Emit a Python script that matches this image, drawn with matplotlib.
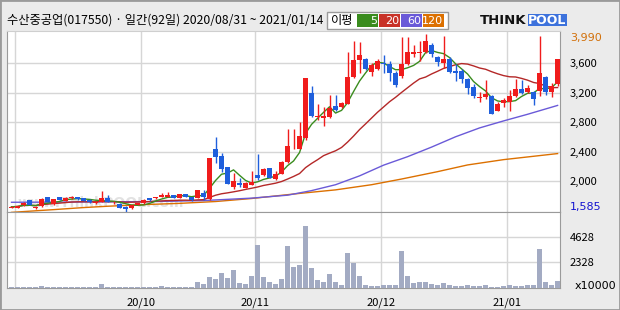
import numpy as np
import pandas as pd
import matplotlib
matplotlib.use("Agg")
import matplotlib.pyplot as plt
import matplotlib.transforms as mtransforms
from matplotlib.patches import Rectangle

plt.rcParams['font.family'] = ['Noto Sans CJK KR', 'DejaVu Sans']

# ---- data ----
title = "수산중공업(017550) · 일간(92일) 2020/08/31 ~ 2021/01/14"

opens = [1635, 1640, 1675, 1740, 1630, 1655, 1785, 1690, 1780, 1735,
         1765, 1785, 1770, 1745, 1700, 1720, 1765, 1710, 1695, 1650,
         1630, 1675, 1700, 1765, 1765, 1785, 1790, 1810, 1775, 1820,
         1785, 1770, 1841, 1750, 2437, 2341, 2191, 1914, 1968, 1905,
         1950, 2077, 2077, 2177, 2027, 2100, 2264, 2470, 2437, 2582,
         3197, 2870, 2856, 2869, 3014, 3001, 3051, 3410, 3638, 3652,
         3479, 3515, 3606, 3588, 3470, 3424, 3583, 3720, 3735, 3743,
         3847, 3688, 3606, 3661, 3492, 3492, 3379, 3279, 3124, 3137,
         3151, 2956, 3060, 3069, 3151, 3251, 3205, 3210, 3219, 3415,
         3205, 3310]
highs = [1655, 1668, 1712, 1745, 1660, 1775, 1790, 1762, 1785, 1780,
         1800, 1790, 1775, 1750, 1725, 1870, 1810, 1725, 1700, 1655,
         1672, 1705, 1750, 1770, 1790, 1840, 1845, 1815, 1825, 1825,
         1790, 1882, 1880, 2310, 2592, 2378, 2195, 2114, 2046, 1980,
         2137, 2369, 2170, 2180, 2141, 2265, 2705, 2705, 2800, 3395,
         3287, 3050, 3006, 3165, 3165, 3065, 3743, 3902, 3879, 3670,
         3606, 3650, 3706, 3629, 3492, 3947, 3947, 3843, 3902, 3990,
         3870, 3695, 3961, 3675, 3583, 3515, 3400, 3310, 3205, 3365,
         3160, 3069, 3128, 3228, 3379, 3370, 3297, 3220, 3961, 3425,
         3324, 3655]
lows = [1628, 1635, 1668, 1670, 1622, 1648, 1710, 1680, 1738, 1730,
        1760, 1748, 1725, 1705, 1695, 1715, 1710, 1690, 1635, 1585,
        1625, 1670, 1695, 1735, 1760, 1780, 1785, 1770, 1770, 1785,
        1735, 1765, 1741, 1745, 2241, 2127, 1955, 1887, 1914, 1900,
        1941, 2014, 2070, 2035, 2020, 2095, 2241, 2433, 2430, 2560,
        2865, 2823, 2741, 2860, 2950, 2990, 3040, 3400, 3461, 3505,
        3424, 3505, 3470, 3356, 3279, 3402, 3575, 3688, 3629, 3733,
        3688, 3561, 3538, 3470, 3356, 3333, 3174, 3128, 3069, 3106,
        2905, 2945, 3001, 2946, 3140, 3174, 3195, 3024, 3151, 3165,
        3137, 3290]
closes = [1650, 1660, 1700, 1675, 1650, 1755, 1715, 1755, 1740, 1775,
          1790, 1750, 1730, 1710, 1720, 1765, 1715, 1720, 1640, 1625,
          1670, 1700, 1745, 1740, 1785, 1810, 1810, 1775, 1820, 1790,
          1740, 1878, 1786, 2309, 2323, 2164, 1959, 2000, 1941, 1977,
          1986, 2041, 2164, 2041, 2100, 2259, 2478, 2480, 2614, 3392,
          2878, 2885, 2887, 2992, 2965, 3060, 3410, 3638, 3706, 3515,
          3570, 3624, 3583, 3470, 3297, 3583, 3743, 3743, 3747, 3893,
          3720, 3615, 3661, 3479, 3470, 3379, 3265, 3151, 3137, 3174,
          2915, 3051, 3092, 3151, 3242, 3197, 3265, 3115, 3461, 3205,
          3287, 3652]
volumes = [90, 95, 100, 90, 95, 200, 100, 95, 90, 100,
           95, 90, 95, 100, 90, 390, 110, 95, 100, 90,
           100, 95, 100, 90, 110, 210, 100, 95, 110, 100,
           90, 500, 330, 1010, 775, 1310, 865, 1640, 475, 330,
           1100, 3900, 955, 505, 330, 835, 3815, 1910, 2115, 5550,
           1760, 685, 565, 1220, 505, 300, 3190, 2295, 1045, 300,
           210, 210, 300, 300, 300, 3370, 1100, 420, 565, 535,
           330, 300, 475, 300, 210, 210, 300, 210, 210, 300,
           120, 120, 210, 300, 210, 210, 300, 300, 3550, 505,
           300, 600]

ma60_idx = [0, 8, 16, 24, 32, 40, 46, 50, 54, 58, 62, 66, 70, 74, 78, 82, 86, 91]
ma60_val = [1712, 1714, 1718, 1722, 1735, 1768, 1808, 1870, 1950, 2070,
            2215, 2330, 2460, 2600, 2720, 2815, 2905, 3025]
ma120_idx = [0, 7, 12, 16, 22, 28, 34, 40, 48, 54, 60, 65, 71, 76, 82, 91]
ma120_val = [1575, 1612, 1640, 1658, 1680, 1697, 1722, 1763, 1832, 1880,
             1950, 2027, 2127, 2218, 2290, 2372]

month_idx = [1, 22, 41, 62, 83]
month_labels = ["", "20/10", "20/11", "20/12", "21/01"]
price_ticks = [2000, 2400, 2800, 3200, 3600]
vol_ticks = [2328, 4628]

RED = '#f01c1c'
BLUE = '#1f5fdc'
GREEN = '#3a8c1e'
MA20C = '#b42828'
MA60C = '#6a5ad8'
MA120C = '#dc7000'
GRID = '#d6d6d6'

W, H = 620, 310


def fx(px):
    return px / W


def fy(py):
    return 1 - py / H


fig = plt.figure(figsize=(6.2, 3.1), dpi=100)
fig.patch.set_facecolor('#ebebeb')

ax = fig.add_axes([fx(7), fy(212), fx(560) - fx(7), fy(31) - fy(212)])
axv = fig.add_axes([fx(7), fy(288), fx(560) - fx(7), fy(212) - fy(288)], sharex=ax)

df = pd.DataFrame(dict(o=opens, h=highs, l=lows, c=closes, v=volumes))
idx = np.arange(len(df))
up = (df.c >= df.o).values
colors = np.where(up, RED, BLUE)

# moving averages
ma5 = df.c.rolling(5, min_periods=1).mean()
ma20 = df.c.rolling(20, min_periods=1).mean()
ax.plot(ma120_idx, ma120_val, color=MA120C, lw=1, zorder=2)
ax.plot(ma60_idx, ma60_val, color=MA60C, lw=1, zorder=2)
ax.plot(idx, ma20, color=MA20C, lw=1, zorder=2)
ax.plot(idx, ma5, color=GREEN, lw=1, zorder=2)

# candles
ax.vlines(idx, df.l, df.h, colors=colors, lw=1, zorder=3)
body_bottom = np.minimum(df.o, df.c)
body_h = np.maximum((df.c - df.o).abs(), 8)
ax.bar(idx, body_h, bottom=body_bottom, width=0.78, color=colors, lw=0, zorder=4)

ax.text(0.17, 0.05, "www.ThinkPOOL.com", transform=ax.transAxes, ha='center',
        va='center', fontsize=10, fontweight='bold', color='#e2e2e2', zorder=1,
        family='DejaVu Sans')

ax.set_xlim(-0.75, 91.4)
ax.set_ylim(1580, 4034)
ax.set_facecolor('white')
ax.yaxis.tick_right()
ax.set_yticks(price_ticks)
ax.set_yticklabels([f"{t:,}" for t in price_ticks])
ax.tick_params(axis='y', length=0, pad=7.2, labelsize=8)
ax.tick_params(axis='x', length=0, labelbottom=False)
ax.set_xticks([m - 0.45 for m in month_idx])
ax.grid(color=GRID, lw=1)
ax.set_axisbelow(True)
for s in ax.spines.values():
    s.set_color('#9a9a9a')
ax.spines['top'].set_color('#cfcfcf')

# max / min labels
trans = mtransforms.blended_transform_factory(ax.transAxes, ax.transData)
ax.annotate(f"{df.h.max():,}", xy=(1, df.h.max()), xycoords=trans,
            xytext=(7.2, -2.6), textcoords='offset points', va='center',
            fontsize=8, color='#d2700a', family='DejaVu Sans', annotation_clip=False)
ax.annotate(f"{df.l.min():,}", xy=(1, df.l.min()), xycoords=trans,
            xytext=(7.2, 3.2), textcoords='offset points', va='center',
            fontsize=8, color='#1414d0', family='DejaVu Sans', annotation_clip=False)

# volume
axv.bar(idx, df.v, width=0.75, color='#a3abc3', lw=0, zorder=3)
axv.set_ylim(0, 6855)
axv.set_facecolor('white')
axv.yaxis.tick_right()
axv.set_yticks(vol_ticks)
axv.set_yticklabels([str(t) for t in vol_ticks])
axv.tick_params(axis='y', length=0, pad=7.2, labelsize=8)
axv.set_xticks([m - 0.45 for m in month_idx])
axv.set_xticklabels(month_labels)
axv.tick_params(axis='x', length=0, pad=6.5, labelsize=8)
axv.grid(color=GRID, lw=1)
axv.set_axisbelow(True)
for s in axv.spines.values():
    s.set_color('#9a9a9a')
axv.annotate("x10000", xy=(1, 0), xycoords='axes fraction', xytext=(10.5, 1.5),
             textcoords='offset points', va='center', fontsize=8,
             family='DejaVu Sans', annotation_clip=False)

# header
fig.text(fx(7), fy(20), title, va='center', ha='left', fontsize=8.8)
fig.patches.append(Rectangle((fx(327), fy(29)), fx(448) - fx(327), fy(12) - fy(29),
                             transform=fig.transFigure, facecolor='white',
                             edgecolor='#9a9a9a', lw=1))
fig.text(fx(331), fy(20.5), "이평", va='center', ha='left', fontsize=8.8)
legend_items = [("5", GREEN, 357), ("20", '#c83228', 379), ("60", MA60C, 401), ("120", MA120C, 423)]
for lab, col, x0 in legend_items:
    fig.patches.append(Rectangle((fx(x0), fy(27)), fx(21), fy(14) - fy(27),
                                 transform=fig.transFigure, facecolor=col, lw=0))
    fig.text(fx(x0 + 20), fy(20.5), lab, va='center', ha='right', fontsize=8,
             color='white', family='DejaVu Sans')

# logo
fig.text(fx(480), fy(20), "THINK", va='center', ha='left', fontsize=9.5,
         fontweight='bold', color='#111111', family='DejaVu Sans')
fig.patches.append(Rectangle((fx(528), fy(26)), fx(567) - fx(528), fy(14) - fy(26),
                             transform=fig.transFigure, facecolor='#3d72dc', lw=0))
fig.text(fx(547.5), fy(20), "POOL", va='center', ha='center', fontsize=9,
         fontweight='bold', color='white', family='DejaVu Sans')

fig.patches.append(Rectangle((0, 0), 1, 1, transform=fig.transFigure, fill=False,
                             edgecolor='#9a9a9a', lw=2))

fig.savefig('out.png', dpi=100)
